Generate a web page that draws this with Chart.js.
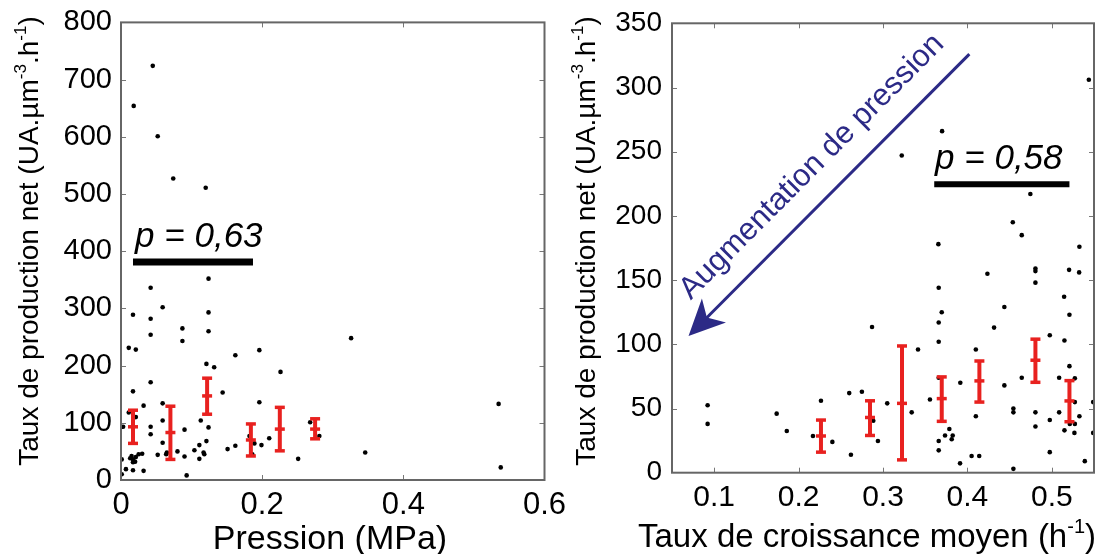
<!DOCTYPE html>
<html>
<head>
<meta charset="utf-8">
<script src="https://cdn.jsdelivr.net/npm/chart.js@4.4.1/dist/chart.umd.min.js"></script>
<style>
  html, body { margin: 0; padding: 0; background: #fff; }
  #wrap { position: relative; width: 1105px; height: 554px; overflow: hidden; }
  canvas { position: absolute; top: 0; }
  #leftChart { left: 0; }
  #rightChart { left: 555px; }
</style>
</head>
<body>
<div id="wrap">
  <canvas id="leftChart" width="580" height="554"></canvas>
  <canvas id="rightChart" width="550" height="554"></canvas>
</div>
<script>
// ---- left panel : production vs pression ----
const pressionX = [0.018, 0.045, 0.052, 0.074, 0.12, 0.124, 0.042, 0.017, 0.059, 0.042, 0.124, 0.042, 0.087, 0.087, 0.124,
  0.011, 0.021, 0.162, 0.196, 0.121, 0.132, 0.226, 0.326, 0.042, 0.017, 0.144, 0.059, 0.196, 0.032, 0.011, 0.021, 0.059,
  0.113, 0.042, 0.090, 0.124, 0.003, 0.042, 0.182, 0.189, 0.210, 0.199, 0.059, 0.080, 0.104, 0.111, 0.121, 0.117, 0.090,
  0.111, 0.065, 0.052, 0.151, 0.162, 0.251, 0.268, 0.281, 0.346, 0.535, 0.538, 0.001, 0.007, 0.017, 0.032, 0.001, 0.093,
  0.013, 0.017, 0.021, 0.025, 0.030, 0.017, 0.020, 0.015, 0.064, 0.118, 0.186];
const productionL = [654, 724, 601, 527, 511, 352, 336, 289, 302, 282, 293, 254, 265, 243, 260,
  231, 228, 218, 227, 203, 197, 189, 248, 171, 155, 153, 134, 136, 130, 118, 110, 104,
  104, 93, 88, 92, 93, 80, 77, 64, 73, 61, 65, 50, 52, 61, 68, 48, 41,
  37, 48, 44, 54, 60, 37, 101, 77, 48, 133, 22, 36, 19, 17, 16, 10, 8,
  38, 36, 40, 45, 46, 31, 32, 42, 45, 45, 45];
const pressionBarX = [0.017, 0.070, 0.122, 0.184, 0.225, 0.275];
const pressionMean = [93, 83, 147, 70, 89, 89];
const pressionLow = [64, 36, 115, 42, 51, 72];
const pressionHigh = [122, 129, 178, 98, 127, 107];
const pressionTicks = [0, 0.2, 0.4, 0.6];
const productionTicksL = [0, 100, 200, 300, 400, 500, 600, 700, 800];

// ---- right panel : production vs taux de croissance ----
const croissanceX = [0.0922, 0.0922, 0.174, 0.186, 0.217, 0.2265, 0.240, 0.262, 0.260, 0.275, 0.287, 0.2885, 0.294, 0.305,
  0.334, 0.3415, 0.3556, 0.366, 0.3696, 0.366, 0.366, 0.366, 0.3735, 0.3786, 0.3826, 0.3814, 0.366, 0.366, 0.3913,
  0.3916, 0.405, 0.414, 0.410, 0.410, 0.4237, 0.4316, 0.4438, 0.4438, 0.4545, 0.4545, 0.4545, 0.4644, 0.4806, 0.4806,
  0.4806, 0.4806, 0.4806, 0.4976, 0.4976, 0.4976, 0.5087, 0.5087, 0.5146, 0.5205, 0.5209, 0.515, 0.5209, 0.5273,
  0.5273, 0.515, 0.5213, 0.5273, 0.5268, 0.5327, 0.5324, 0.5391, 0.549, 0.549, 0.5439, 0.37, 0.3222, 0.4746, 0.4538,
  0.4644, 0.5327, 0.3656];
const productionR = [52.5, 38, 46, 32.5, 28.6, 56, 24, 14, 62, 63, 113.5, 40.5, 24.7, 54,
  47, 96, 57, 144, 125, 117, 102, 74, 29, 34, 29, 26, 24.7, 17.4, 7.3,
  70, 13, 13, 96, 44, 155, 113, 129, 68, 50, 47, 3, 74, 159, 157,
  148, 47, 36, 107, 41, 16, 74, 47, 137, 158, 123, 103, 83, 73.5,
  55, 33, 38, 38, 31, 44, 156, 9, 55, 31, 306, 266, 247, 217, 195,
  185, 176, 178];
const croissanceBarX = [0.2265, 0.2846, 0.3225, 0.3696, 0.4142, 0.4806, 0.5209];
const croissanceMean = [28.6, 43, 54, 57.7, 71.5, 87.6, 55.9];
const croissanceLow = [16, 29, 10, 40, 55, 70.4, 39.7];
const croissanceHigh = [41, 56, 98.7, 74.6, 87, 104, 71.7];
const croissanceTicks = [0.1, 0.2, 0.3, 0.4, 0.5];
const productionTicksR = [0, 50, 100, 150, 200, 250, 300, 350];

const FONT = "'Liberation Sans', Arial, sans-serif";
const RED = '#e8211f';
const NAVY = '#2c2a86';

Chart.defaults.color = '#000';
Chart.defaults.font.family = FONT;

function toPoints(xs, ys) {
  return xs.map((x, i) => ({ x: x, y: ys[i] }));
}

// text with raised parts (superscripts), centred on x,y, baseline at y
function drawRich(ctx, parts, size, x, y, angle) {
  ctx.save();
  ctx.translate(x, y);
  ctx.rotate(angle);
  ctx.textAlign = 'left';
  ctx.textBaseline = 'alphabetic';
  ctx.fillStyle = '#000';
  let total = 0;
  parts.forEach(p => {
    ctx.font = (p.sup ? Math.round(size * 0.62) : size) + 'px ' + FONT;
    p.w = ctx.measureText(p.t).width;
    total += p.w;
  });
  let cx = -total / 2;
  parts.forEach(p => {
    ctx.font = (p.sup ? Math.round(size * 0.62) : size) + 'px ' + FONT;
    ctx.fillText(p.t, cx, p.sup ? -size * 0.42 : 0);
    cx += p.w;
  });
  ctx.restore();
}

const decorPlugin = {
  id: 'decor',
  afterDatasetsDraw(chart, args, opts) {
    const ctx = chart.ctx;
    const xs = chart.scales.x, ys = chart.scales.y;
    // error bars
    ctx.save();
    ctx.strokeStyle = RED;
    opts.bars.x.forEach((xv, i) => {
      const px = xs.getPixelForValue(xv);
      const yTop = ys.getPixelForValue(opts.bars.high[i]);
      const yBot = ys.getPixelForValue(opts.bars.low[i]);
      const yMid = ys.getPixelForValue(opts.bars.mean[i]);
      ctx.lineWidth = 4;
      ctx.beginPath();
      ctx.moveTo(px, yTop);
      ctx.lineTo(px, yBot);
      ctx.stroke();
      ctx.lineWidth = 3.5;
      [yTop, yMid, yBot].forEach(py => {
        ctx.beginPath();
        ctx.moveTo(px - 5, py);
        ctx.lineTo(px + 5, py);
        ctx.stroke();
      });
    });
    ctx.restore();
  },
  afterDraw(chart, args, opts) {
    const ctx = chart.ctx;
    const a = chart.chartArea;
    const xs = chart.scales.x, ys = chart.scales.y;
    ctx.save();
    // inner tick marks
    ctx.strokeStyle = '#777';
    ctx.lineWidth = 1;
    xs.ticks.forEach(t => {
      const px = Math.round(xs.getPixelForValue(t.value)) + 0.5;
      if (px < a.left + 2 || px > a.right - 2) return;
      ctx.beginPath();
      ctx.moveTo(px, a.bottom); ctx.lineTo(px, a.bottom - 5);
      ctx.moveTo(px, a.top); ctx.lineTo(px, a.top + 5);
      ctx.stroke();
    });
    ys.ticks.forEach(t => {
      const py = Math.round(ys.getPixelForValue(t.value)) + 0.5;
      if (py < a.top + 2 || py > a.bottom - 2) return;
      ctx.beginPath();
      ctx.moveTo(a.left, py); ctx.lineTo(a.left + 5, py);
      ctx.moveTo(a.right, py); ctx.lineTo(a.right - 5, py);
      ctx.stroke();
    });
    // frame
    ctx.strokeStyle = '#666';
    ctx.lineWidth = 2;
    ctx.strokeRect(a.left, a.top, a.right - a.left, a.bottom - a.top);

    // p-value bar and label
    const pv = opts.pvalue;
    ctx.strokeStyle = '#000';
    ctx.lineWidth = pv.thick;
    ctx.beginPath();
    ctx.moveTo(xs.getPixelForValue(pv.x0), ys.getPixelForValue(pv.y));
    ctx.lineTo(xs.getPixelForValue(pv.x1), ys.getPixelForValue(pv.y));
    ctx.stroke();
    ctx.fillStyle = '#000';
    ctx.font = 'italic 35px ' + FONT;
    ctx.textAlign = 'left';
    ctx.textBaseline = 'alphabetic';
    ctx.fillText(pv.text, xs.getPixelForValue(pv.tx), ys.getPixelForValue(pv.ty));

    // arrow
    if (opts.arrow) {
      const ar = opts.arrow;
      const x0 = xs.getPixelForValue(ar.from[0]), y0 = ys.getPixelForValue(ar.from[1]);
      const x1 = xs.getPixelForValue(ar.to[0]), y1 = ys.getPixelForValue(ar.to[1]);
      const len = Math.hypot(x0 - x1, y0 - y1);
      const ux = (x0 - x1) / len, uy = (y0 - y1) / len; // tip -> tail
      const nx = uy, ny = -ux;
      ctx.strokeStyle = NAVY;
      ctx.fillStyle = NAVY;
      ctx.lineWidth = 3;
      ctx.beginPath();
      ctx.moveTo(x0, y0);
      ctx.lineTo(x1 + ux * 24, y1 + uy * 24);
      ctx.stroke();
      ctx.beginPath();
      ctx.moveTo(x1, y1);
      ctx.lineTo(x1 + ux * 36 + nx * 17, y1 + uy * 36 + ny * 17);
      ctx.lineTo(x1 + ux * 26, y1 + uy * 26);
      ctx.lineTo(x1 + ux * 36 - nx * 17, y1 + uy * 36 - ny * 17);
      ctx.closePath();
      ctx.fill();
      // label along the arrow
      const mx = (x0 + x1) / 2 + ux * 8 + nx * 32;
      const my = (y0 + y1) / 2 + uy * 8 + ny * 32;
      ctx.save();
      ctx.translate(mx, my);
      ctx.rotate(Math.atan2(uy, ux));
      ctx.font = '31px ' + FONT;
      ctx.textAlign = 'center';
      ctx.textBaseline = 'middle';
      ctx.fillText(ar.text, 0, 0);
      ctx.restore();
    }

    // axis titles
    const t = opts.titles;
    drawRich(ctx, t.y, 28, t.yPos[0], t.yPos[1], -Math.PI / 2);
    drawRich(ctx, t.x, t.xSize, t.xPos[0], t.xPos[1], 0);
    ctx.restore();
  }
};

function makeChart(id, cfg) {
  return new Chart(document.getElementById(id), {
    type: 'scatter',
    data: {
      datasets: [{
        data: toPoints(cfg.xs, cfg.ys),
        pointRadius: 2.3,
        pointHoverRadius: 2.3,
        pointBackgroundColor: '#000',
        pointBorderWidth: 0
      }]
    },
    options: {
      responsive: false,
      animation: false,
      layout: { padding: cfg.padding },
      plugins: {
        legend: { display: false },
        tooltip: { enabled: false },
        decor: cfg.decor
      },
      scales: {
        x: {
          type: 'linear',
          min: cfg.xRange[0],
          max: cfg.xRange[1],
          grid: { display: false, drawTicks: false },
          border: { display: false },
          afterBuildTicks: s => { s.ticks = cfg.xTicks.map(v => ({ value: v })); },
          afterFit: s => { s.height = cfg.xHeight; s.paddingLeft = 0; s.paddingRight = 0; },
          ticks: {
            padding: 7,
            maxRotation: 0,
            autoSkip: false,
            font: { size: cfg.xTickSize },
            callback: v => String(v)
          }
        },
        y: {
          min: cfg.yRange[0],
          max: cfg.yRange[1],
          grid: { display: false, drawTicks: false },
          border: { display: false },
          afterBuildTicks: s => { s.ticks = cfg.yTicks.map(v => ({ value: v })); },
          afterFit: s => { s.width = cfg.yWidth; s.paddingTop = 0; s.paddingBottom = 0; },
          ticks: {
            padding: cfg.yPad,
            autoSkip: false,
            font: { size: cfg.yTickSize },
            callback: v => String(v)
          }
        }
      }
    },
    plugins: [decorPlugin]
  });
}

const yTitle = [
  { t: 'Taux de production net (UA.\u00b5m' }, { t: '-3', sup: true },
  { t: '.h' }, { t: '-1', sup: true }, { t: ')' }
];

makeChart('leftChart', {
  xs: pressionX, ys: productionL,
  xRange: [0, 0.6], yRange: [0, 800],
  xTicks: pressionTicks, yTicks: productionTicksL,
  padding: { top: 22.4, right: 35.5, left: 0, bottom: 0 },
  xHeight: 74, yWidth: 121, yPad: 9,
  xTickSize: 31, yTickSize: 29,
  decor: {
    bars: { x: pressionBarX, mean: pressionMean, low: pressionLow, high: pressionHigh },
    pvalue: { x0: 0.017, x1: 0.187, y: 381, thick: 7, text: 'p = 0,63', tx: 0.02, ty: 408 },
    titles: {
      y: yTitle, yPos: [38, 241],
      x: [{ t: 'Pression (MPa)' }], xSize: 34, xPos: [330, 549]
    }
  }
});

makeChart('rightChart', {
  xs: croissanceX, ys: productionR,
  xRange: [0.05, 0.55], yRange: [0, 350],
  xTicks: croissanceTicks, yTicks: productionTicksR,
  padding: { top: 23.3, right: 11, left: 0, bottom: 0 },
  xHeight: 81.3, yWidth: 117, yPad: 10,
  xTickSize: 30, yTickSize: 28,
  decor: {
    bars: { x: croissanceBarX, mean: croissanceMean, low: croissanceLow, high: croissanceHigh },
    pvalue: { x0: 0.3607, x1: 0.5209, y: 224.6, thick: 6, text: 'p = 0,58', tx: 0.3617, ty: 236.6 },
    arrow: { from: [0.4023, 326], to: [0.0696, 106.5], text: 'Augmentation de pression' },
    titles: {
      y: yTitle, yPos: [40, 241],
      x: [{ t: 'Taux de croissance moyen (h' }, { t: '-1', sup: true }, { t: ')' }], xSize: 33, xPos: [312, 547]
    }
  }
});
</script>
</body>
</html>
